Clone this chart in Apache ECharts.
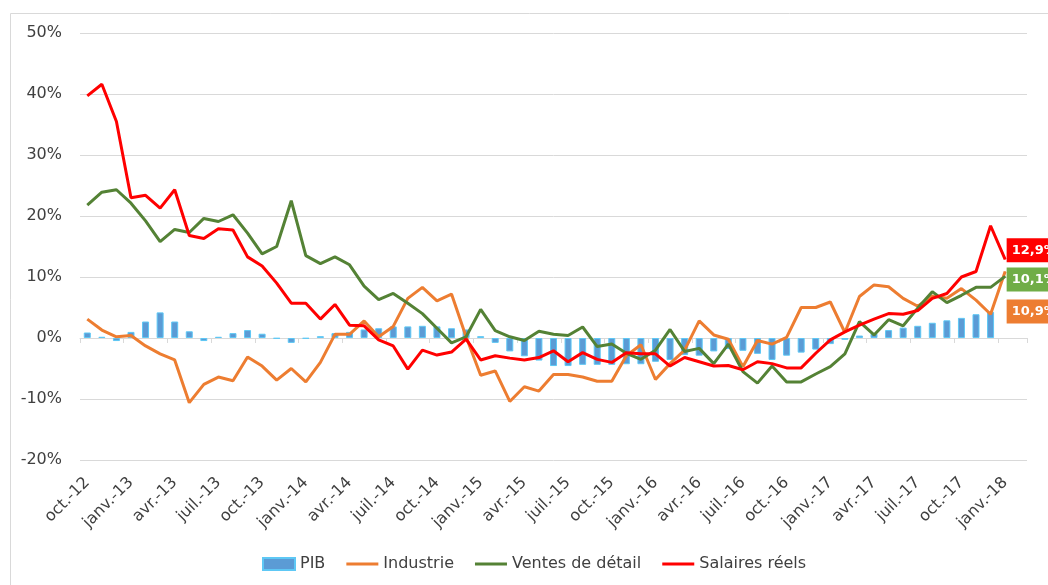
<!DOCTYPE html>
<html>
<head>
<meta charset="utf-8">
<script src="https://cdn.jsdelivr.net/npm/echarts@6/dist/echarts.min.js"></script>
<style>
    html, body { margin: 0; padding: 0; background: #fff; }
    #chart { width: 1048px; height: 585px; }
</style>
</head>
<body>
<div id="chart"></div>
<script>
// months, oct. 2012 -> févr. 2018 (the last month has no data)
const months = [
    'oct.-12', 'nov.-12', 'déc.-12',
    'janv.-13', 'févr.-13', 'mars-13', 'avr.-13', 'mai-13', 'juin-13', 'juil.-13', 'août-13', 'sept.-13', 'oct.-13', 'nov.-13', 'déc.-13',
    'janv.-14', 'févr.-14', 'mars-14', 'avr.-14', 'mai-14', 'juin-14', 'juil.-14', 'août-14', 'sept.-14', 'oct.-14', 'nov.-14', 'déc.-14',
    'janv.-15', 'févr.-15', 'mars-15', 'avr.-15', 'mai-15', 'juin-15', 'juil.-15', 'août-15', 'sept.-15', 'oct.-15', 'nov.-15', 'déc.-15',
    'janv.-16', 'févr.-16', 'mars-16', 'avr.-16', 'mai-16', 'juin-16', 'juil.-16', 'août-16', 'sept.-16', 'oct.-16', 'nov.-16', 'déc.-16',
    'janv.-17', 'févr.-17', 'mars-17', 'avr.-17', 'mai-17', 'juin-17', 'juil.-17', 'août-17', 'sept.-17', 'oct.-17', 'nov.-17', 'déc.-17',
    'janv.-18', 'févr.-18'
]

const pib = [
    0.9, 0.2, -0.5, 1.0, 2.7, 4.2, 2.7, 1.1, -0.5, 0.2, 0.8, 1.3, 0.7, -0.1, -0.8, -0.1,
    0.3, 0.8, 1.0, 1.4, 1.6, 1.9, 1.9, 2.0, 1.9, 1.6, 1.4, 0.3, -0.8, -2.2, -3.0, -3.7,
    -4.6, -4.6, -4.4, -4.4, -4.4, -4.3, -4.3, -3.9, -3.6, -2.8, -2.9, -2.2, -1.8, -2.1, -2.6, -3.6,
    -2.9, -2.4, -1.9, -1.0, -0.3, 0.4, 0.7, 1.3, 1.7, 2.0, 2.5, 2.9, 3.3, 3.9, 4.3
]

const industrie = [
    3.1, 1.3, 0.2, 0.4, -1.3, -2.6, -3.6, -10.6, -7.6, -6.4, -7.0, -3.1, -4.6, -6.9, -5.0, -7.2,
    -4.0, 0.6, 0.6, 2.8, 0.2, 1.9, 6.5, 8.3, 6.1, 7.2, 0.2, -6.1, -5.4, -10.4, -8.0, -8.7,
    -6.0, -6.0, -6.4, -7.1, -7.1, -2.9, -1.1, -6.8, -4.2, -2.0, 2.8, 0.5, -0.2, -4.7, -0.4, -1.0,
    0.1, 5.0, 5.0, 5.9, 0.9, 6.8, 8.7, 8.4, 6.5, 5.2, 6.9, 6.5, 8.1, 6.2, 3.9, 10.9
]

const ventes = [
    21.8, 23.9, 24.3, 22.1, 19.2, 15.8, 17.8, 17.3, 19.6, 19.1, 20.2, 17.2, 13.8, 15.0, 22.5, 13.5,
    12.2, 13.3, 12.0, 8.5, 6.3, 7.3, 5.7, 4.0, 1.6, -0.8, 0.2, 4.7, 1.2, 0.2, -0.4, 1.1,
    0.6, 0.4, 1.8, -1.4, -1.0, -2.5, -3.5, -2.0, 1.4, -2.2, -1.7, -4.2, -1.0, -5.5, -7.4, -4.6,
    -7.2, -7.2, -5.9, -4.7, -2.6, 2.7, 0.5, 3.0, 2.0, 4.9, 7.6, 5.8, 7.0, 8.3, 8.3, 10.1
]

const salaires = [
    39.7, 41.6, 35.5, 23.0, 23.4, 21.3, 24.3, 16.8, 16.3, 17.9, 17.7, 13.3, 11.8, 9.0, 5.7, 5.7,
    3.1, 5.5, 2.1, 2.0, -0.3, -1.3, -5.1, -2.0, -2.8, -2.3, -0.2, -3.6, -2.9, -3.3, -3.6, -3.2,
    -2.1, -3.9, -2.4, -3.5, -4.0, -2.4, -2.6, -2.6, -4.6, -3.2, -3.9, -4.6, -4.5, -5.2, -3.9, -4.2,
    -4.9, -4.9, -2.5, -0.3, 1.0, 2.1, 3.1, 4.0, 3.9, 4.5, 6.5, 7.3, 10.0, 10.9, 18.4, 12.9
]

const yTicks = { min: -20, max: 50, step: 10 }

const FONT = '"DejaVu Sans", sans-serif'
const TEXT_COLOR = '#404040'
const GRID_COLOR = '#d9d9d9'
const LINE_ICON = 'path://M0,0H32V3H0Z'

function pct(v) {
    return v.toFixed(1).replace('.', ',') + '%'
}

// put a coloured box label on the last point only
function withLastLabel(list, color, dy) {
    return list.map((v, i) => {
        if (i !== list.length - 1) return v
        return {
            value: v,
            symbol: 'circle',
            symbolSize: 1,
            label: {
                show: true,
                position: 'right',
                distance: 1,
                offset: [0, dy],
                formatter: p => pct(p.value),
                backgroundColor: color,
                color: '#fff',
                fontWeight: 'bold',
                fontFamily: FONT,
                fontSize: 13,
                lineHeight: 16,
                padding: [4, 5, 4, 5]
            }
        }
    })
}

function lineSeries(name, list, color, labelColor, dy) {
    return {
        name: name,
        type: 'line',
        xAxisIndex: 1,
        symbol: 'none',
        showSymbol: true,
        lineStyle: { color: color, width: 3 },
        itemStyle: { color: color },
        data: withLastLabel(list, labelColor, dy)
    }
}

let chart = echarts.init(document.getElementById('chart'), null, { renderer: 'canvas' })

let option = {
    animation: false,
    textStyle: { fontFamily: FONT },
    graphic: [{
        type: 'rect',
        silent: true,
        z: -10,
        shape: { x: 10.5, y: 13.5, width: 1200, height: 700 },
        style: { fill: 'none', stroke: GRID_COLOR, lineWidth: 1 }
    }],
    grid: {
        left: 80,
        right: 21,
        top: 33,
        bottom: 125
    },
    legend: {
        left: 257,
        top: 551,
        itemWidth: 32,
        itemHeight: 12,
        itemGap: 21,
        textStyle: { color: TEXT_COLOR, fontSize: 16, fontFamily: FONT },
        data: [
            { name: 'PIB', icon: 'rect' },
            { name: 'Industrie', icon: LINE_ICON },
            { name: 'Ventes de détail', icon: LINE_ICON },
            { name: 'Salaires réels', icon: LINE_ICON }
        ]
    },
    xAxis: [
        {
            // zero line with its tick marks
            type: 'category',
            position: 'top',
            data: months,
            boundaryGap: true,
            axisLine: { show: true, onZero: true, lineStyle: { color: GRID_COLOR, width: 1 } },
            axisTick: { show: true, inside: true, interval: 2, length: 5, lineStyle: { color: GRID_COLOR } },
            axisLabel: { show: false },
            splitLine: { show: false }
        },
        {
            type: 'category',
            position: 'bottom',
            data: months,
            boundaryGap: true,
            axisLine: { show: false, onZero: false },
            axisTick: { show: false },
            axisLabel: {
                interval: 2,
                rotate: 45,
                margin: 20,
                color: TEXT_COLOR,
                fontSize: 16,
                fontFamily: FONT
            },
            splitLine: { show: false }
        }
    ],
    yAxis: {
        type: 'value',
        min: yTicks.min,
        max: yTicks.max,
        interval: yTicks.step,
        axisLine: { show: false },
        axisTick: { show: false },
        axisLabel: {
            margin: 18,
            color: TEXT_COLOR,
            fontSize: 16,
            fontFamily: FONT,
            formatter: '{value}%'
        },
        splitLine: { lineStyle: { color: GRID_COLOR, width: 1 } }
    },
    series: [
        {
            name: 'PIB',
            type: 'bar',
            xAxisIndex: 1,
            barWidth: 7,
            itemStyle: { color: '#5b9bd5', borderColor: '#5ec8f5', borderWidth: 1 },
            data: pib
        },
        lineSeries('Industrie', industrie, '#ed7d31', '#ed7d31', 40),
        lineSeries('Ventes de détail', ventes, '#548235', '#70ad47', 3),
        lineSeries('Salaires réels', salaires, '#ff0000', '#ff0000', -9)
    ]
}

chart.setOption(option, true)
</script>
</body>
</html>
